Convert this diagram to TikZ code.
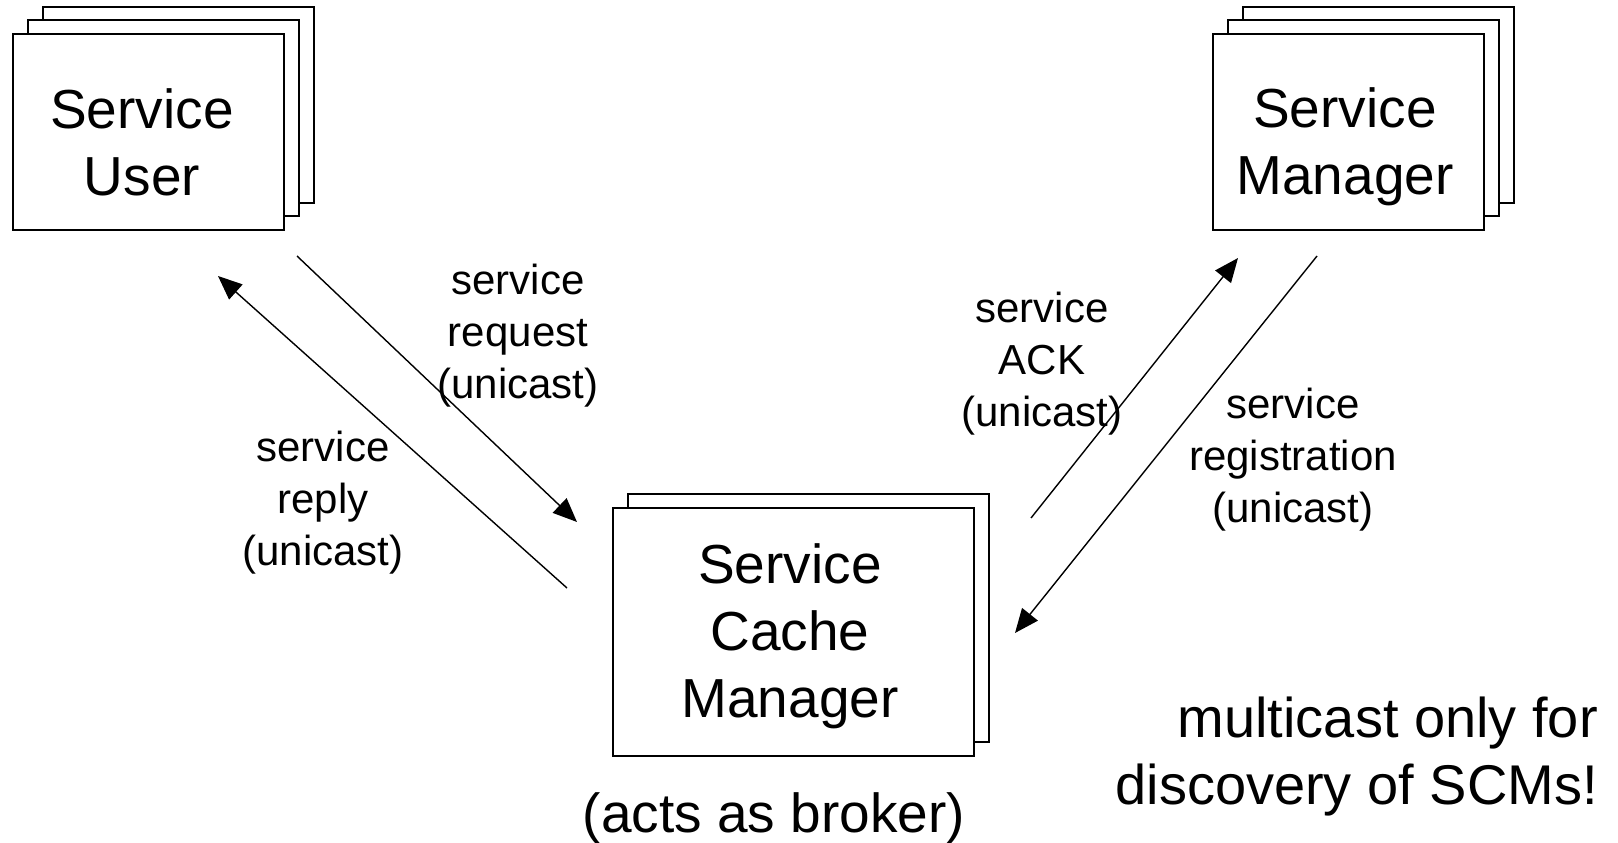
\documentclass[tikz,border=0pt]{standalone}
\usepackage{fontspec}
\setmainfont{Liberation Sans}
\usetikzlibrary{arrows.meta,calc}
\begin{document}
\begin{tikzpicture}[x=1pt,y=-1pt,
  card/.style={draw=black,line width=2pt,fill=white,minimum width=271pt,minimum height=196pt,inner sep=0pt,anchor=north west},
  bigcard/.style={card,minimum width=361pt,minimum height=248pt},
  bigtxt/.style={font=\fontsize{55}{67}\selectfont,align=center,inner sep=0pt},
  lbl/.style={font=\fontsize{42}{52}\selectfont,align=center,inner sep=0pt},
  msg/.style={line width=1.4pt,-{Triangle[length=24pt,width=20pt]}}]
\useasboundingbox (0,0) rectangle (1618,843);
% Service User stack
\node[card] (su3) at (42,6) {};
\node[card] (su2) at (27,19) {};
\node[card] (su) at (12,33) {};
\node[bigtxt] (sut) at (142,142) {Service\\User};
% Service Manager stack
\node[card] (sm3) at (1242,6) {};
\node[card] (sm2) at (1227,19) {};
\node[card] (sm) at (1212,33) {};
\node[bigtxt] (smt) at (1345,147) {Service\\Manager};
% Service Cache Manager stack
\node[bigcard] (scm2) at (627,493) {};
\node[bigcard] (scm) at (612,507) {};
\node[bigtxt] (scmt) at (790,636) {Service\\Cache\\Manager};
\node[bigtxt] (broker) at (774,818) {(acts as broker)};
\node[bigtxt,align=right,anchor=east,font=\fontsize{56}{67}\selectfont] (note) at (1598,757) {multicast only for\\discovery of SCMs!};
% connectors
\coordinate (reqS) at (297,256); \coordinate (reqE) at (577,522);
\coordinate (repS) at (567,588); \coordinate (repE) at (218,276);
\coordinate (ackS) at (1031,518); \coordinate (ackE) at (1238,258);
\coordinate (regS) at (1317,256); \coordinate (regE) at (1015,633);
\draw[msg] (reqS) -- (reqE);
\draw[msg] (repS) -- (repE);
\draw[msg] (ackS) -- (ackE);
\draw[msg] (regS) -- (regE);
% labels
\node[lbl] (lreq) at (518,336) {service\\request\\(unicast)};
\node[lbl] (lrep) at (323,503) {service\\reply\\(unicast)};
\node[lbl] (lack) at (1042,364) {service\\ACK\\(unicast)};
\node[lbl] (lreg) at (1293,460) {service\\registration\\(unicast)};
\end{tikzpicture}
\end{document}
